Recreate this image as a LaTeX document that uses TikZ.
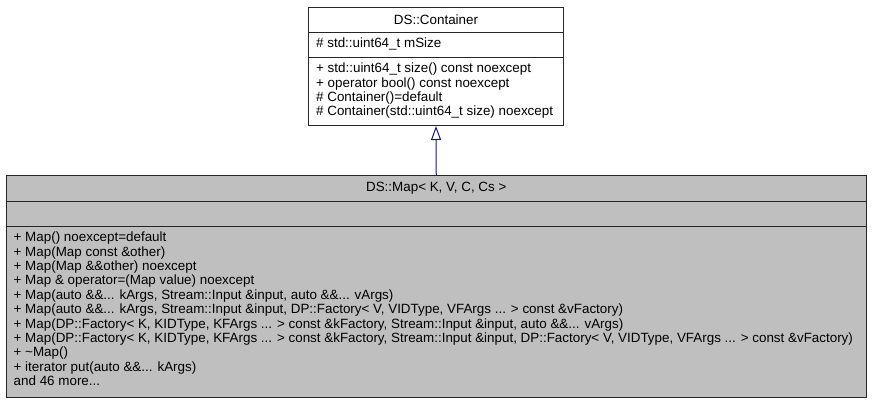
\documentclass[tikz,border=0pt]{standalone}
\usepackage{fontspec}
\setmainfont{Liberation Sans}
\usetikzlibrary{arrows.meta}

\definecolor{classgray}{HTML}{BFBFBF}
\definecolor{edgeblue}{HTML}{191970}

\tikzset{
  part/.style={draw=black!85, line width=1pt, anchor=north west, inner sep=0pt},
  member/.style={anchor=base west, inner sep=0pt},
  inherit/.style={draw=edgeblue, line width=1pt, -{Triangle[open, length=14pt, width=10pt, line width=1pt]}}
}

\begin{document}
\begin{tikzpicture}[x=1pt, y=-1pt, font=\fontsize{13.4}{14.4}\selectfont]
\useasboundingbox (0,0) rectangle (872,404);

% base class
\node[part, fill=white, minimum width=255pt, minimum height=25pt] (ctitle) at (308,7) {DS::Container};
\node[part, fill=white, minimum width=255pt, minimum height=25pt] (cattr) at (308,32) {};
\node[part, fill=white, minimum width=255pt, minimum height=68pt] (cops) at (308,57) {};
\node[member] (cattr0) at (316,48) {\# std::uint64\_t mSize};
\node[member] (cop0) at (316,72.6) {+ std::uint64\_t size() const noexcept};
\node[member] (cop1) at (316,87) {+ operator bool() const noexcept};
\node[member] (cop2) at (316,101.4) {\# Container()=default};
\node[member] (cop3) at (316,115.8) {\# Container(std::uint64\_t size) noexcept};

% derived class
\node[part, fill=classgray, minimum width=860.5pt, minimum height=25.5pt] (mtitle) at (5.5,175) {DS::Map< K, V, C, Cs >};
\node[part, fill=classgray, minimum width=860.5pt, minimum height=25.2pt] (mattr) at (5.5,200.5) {};
\node[part, fill=classgray, minimum width=860.5pt, minimum height=171.3pt] (mops) at (5.5,225.7) {};
\node[member] (mop0) at (13.5,241.6) {+ Map() noexcept=default};
\node[member] (mop1) at (13.5,241.6+14.4) {+ Map(Map const \&other)};
\node[member] (mop2) at (13.5,241.6+2*14.4) {+ Map(Map \&\&other) noexcept};
\node[member] (mop3) at (13.5,241.6+3*14.4) {+ Map \& operator=(Map value) noexcept};
\node[member] (mop4) at (13.5,241.6+4*14.4) {+ Map(auto \&\&... kArgs, Stream::Input \&input, auto \&\&... vArgs)};
\node[member] (mop5) at (13.5,241.6+5*14.4) {+ Map(auto \&\&... kArgs, Stream::Input \&input, DP::Factory< V, VIDType, VFArgs ... > const \&vFactory)};
\node[member] (mop6) at (13.5,241.6+6*14.4) {+ Map(DP::Factory< K, KIDType, KFArgs ... > const \&kFactory, Stream::Input \&input, auto \&\&... vArgs)};
\node[member] (mop7) at (13.5,241.6+7*14.4) {+ Map(DP::Factory< K, KIDType, KFArgs ... > const \&kFactory, Stream::Input \&input, DP::Factory< V, VIDType, VFArgs ... > const \&vFactory)};
\node[member] (mop8) at (13.5,241.6+8*14.4) {+ \textasciitilde Map()};
\node[member] (mop9) at (13.5,241.6+9*14.4) {+ iterator put(auto \&\&... kArgs)};
\node[member] (mop10) at (13.5,241.6+10*14.4) {and 46 more...};

% generalisation
\draw[inherit] (mtitle.north) -- (cops.south);
\end{tikzpicture}
\end{document}
